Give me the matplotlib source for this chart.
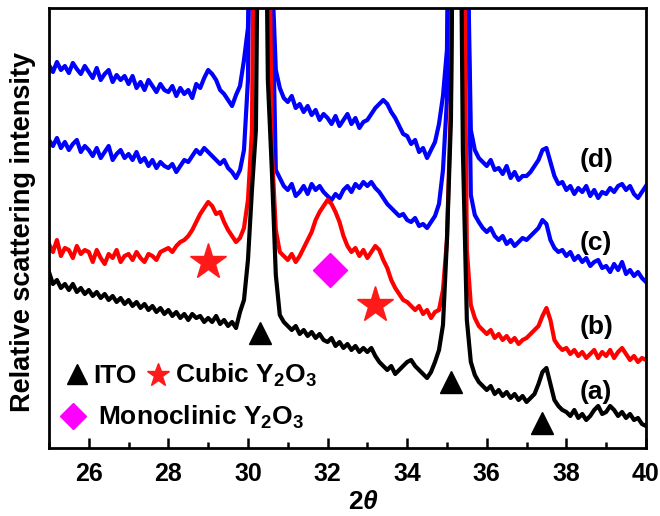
import numpy as np
import matplotlib
matplotlib.use("Agg")
import matplotlib.pyplot as plt

plt.rcParams["font.family"] = ["Liberation Sans", "DejaVu Sans"]
plt.rcParams["font.weight"] = "bold"
plt.rcParams["mathtext.fontset"] = "custom"
plt.rcParams["mathtext.rm"] = "Liberation Sans:bold"
plt.rcParams["mathtext.it"] = "Liberation Sans:italic:bold"
plt.rcParams["mathtext.bf"] = "Liberation Sans:bold"

# 2theta grid (step 0.1 deg) and intensities (arb. units)
two_theta = np.round(np.arange(25.0, 40.01, 0.1), 1)

curve_d = [
    383, 376, 386, 378, 382, 375, 385, 379, 374, 382,
    376, 370, 380, 368, 374, 378, 366, 373, 368, 372,
    364, 372, 360, 366, 358, 368, 362, 356, 364, 358,
    356, 362, 352, 360, 354, 358, 350, 364, 360, 370,
    378, 374, 368, 358, 354, 348, 342, 353, 362, 388,
    420, 598, 948, 948, 948, 948, 480, 378, 360, 350,
    346, 352, 340, 344, 336, 342, 333, 338, 328, 334,
    330, 324, 332, 322, 328, 334, 324, 330, 320, 326,
    328, 334, 340, 344, 348, 344, 336, 330, 322, 314,
    312, 304, 308, 296, 300, 290, 298, 306, 324, 352,
    398, 748, 948, 948, 948, 548, 318, 298, 290, 286,
    282, 288, 278, 280, 274, 282, 270, 276, 268, 272,
    272, 276, 282, 288, 298, 300, 286, 272, 264, 266,
    258, 262, 254, 260, 256, 262, 252, 258, 250, 256,
    254, 260, 256, 262, 264, 258, 262, 254, 250, 256,
    262,
]

curve_c = [
    308, 302, 310, 300, 306, 298, 304, 308, 296, 302,
    298, 292, 300, 290, 296, 302, 288, 294, 298, 290,
    294, 288, 296, 286, 290, 282, 288, 280, 286, 282,
    280, 284, 276, 282, 288, 286, 292, 298, 294, 300,
    296, 292, 288, 284, 288, 280, 276, 270, 278, 298,
    368, 748, 948, 948, 948, 948, 480, 278, 270, 262,
    258, 264, 252, 256, 262, 254, 264, 258, 262, 256,
    252, 248, 254, 250, 258, 262, 256, 264, 260, 266,
    262, 266, 260, 256, 250, 244, 240, 236, 232, 234,
    228, 226, 230, 222, 224, 220, 226, 232, 244, 278,
    348, 748, 948, 948, 948, 548, 253, 233, 226, 220,
    216, 220, 212, 208, 212, 204, 208, 202, 206, 210,
    208, 212, 216, 220, 228, 224, 208, 200, 196, 198,
    192, 196, 188, 192, 186, 190, 182, 186, 188, 180,
    182, 176, 184, 178, 186, 174, 178, 172, 176, 170,
    166,
]

curve_b = [
    204, 196, 208, 192, 200, 198, 190, 202, 194, 198,
    196, 186, 198, 190, 184, 194, 190, 198, 186, 192,
    194, 188, 196, 190, 186, 194, 192, 188, 196, 198,
    200, 196, 202, 206, 208, 212, 218, 226, 234, 240,
    246, 242, 234, 236, 226, 218, 212, 206, 210, 220,
    248, 318, 748, 948, 948, 648, 298, 218, 196, 192,
    188, 194, 186, 192, 200, 208, 216, 228, 236, 242,
    248, 244, 236, 226, 212, 202, 196, 200, 192, 198,
    190, 196, 202, 198, 188, 180, 168, 160, 154, 148,
    146, 142, 138, 142, 134, 138, 130, 136, 138, 158,
    208, 348, 748, 948, 648, 198, 143, 130, 122, 118,
    114, 118, 110, 114, 108, 112, 106, 110, 104, 108,
    110, 114, 118, 122, 132, 140, 128, 108, 102, 98,
    100, 94, 98, 92, 96, 90, 94, 98, 90, 96,
    92, 98, 90, 96, 100, 94, 88, 92, 86, 90,
    88,
]

curve_a = [
    176, 164, 168, 160, 164, 158, 164, 156, 160, 154,
    158, 152, 156, 150, 154, 148, 152, 146, 150, 144,
    148, 142, 146, 140, 144, 138, 142, 136, 140, 134,
    138, 132, 136, 130, 134, 128, 134, 130, 132, 126,
    130, 126, 132, 124, 128, 122, 126, 120, 136, 148,
    188, 258, 318, 748, 748, 368, 278, 173, 133, 126,
    122, 118, 122, 114, 118, 112, 116, 110, 114, 108,
    106, 110, 102, 106, 100, 104, 98, 102, 96, 100,
    96, 100, 92, 86, 82, 78, 82, 74, 78, 82,
    86, 88, 82, 78, 74, 70, 76, 86, 98, 123,
    208, 328, 748, 748, 298, 128, 86, 73, 66, 62,
    58, 62, 54, 58, 52, 56, 50, 54, 48, 52,
    46, 50, 54, 64, 76, 80, 64, 48, 42, 38,
    36, 32, 38, 30, 34, 28, 32, 38, 42, 34,
    36, 42, 38, 32, 36, 30, 34, 28, 30, 24,
    22,
]

# phase markers (position, height)
ito_x = [30.3, 35.1, 37.4]
ito_y = [115, 66, 25]
cubic_x = [29.0, 33.2]
cubic_y = [186, 143]
mono_x = [32.05]
mono_y = [178]

# sample labels
label_text = ["(d)", "(c)", "(b)", "(a)"]
label_y = [288, 205, 121, 56]

fig = plt.figure(figsize=(6.6, 5.16), dpi=100)
ax = fig.add_axes([0.0742, 0.1318, 0.9045, 0.8527])

ax.plot(two_theta, curve_d, color="#0000ff", lw=3)
ax.plot(two_theta, curve_c, color="#0000ff", lw=3)
ax.plot(two_theta, curve_b, color="#ff0000", lw=3)
ax.plot(two_theta, curve_a, color="#000000", lw=3)

ax.plot(ito_x, ito_y, "^", color="black", ms=16, ls="none")
ax.plot(cubic_x, cubic_y, "*", color="#ff1a1a", ms=27, ls="none")
ax.plot(mono_x, mono_y, "D", color="#ff00ff", ms=17, ls="none")

for t, y in zip(label_text, label_y):
    ax.text(38.75, y, t, fontsize=19, fontweight="bold", ha="center", va="center")

# legend, drawn as text with markers
ax.plot([0.047], [0.168], "^", color="black", ms=14, transform=ax.transAxes, clip_on=False)
ax.text(0.075, 0.148, "ITO", fontsize=19, fontweight="bold", transform=ax.transAxes)
ax.plot([0.182], [0.166], "*", color="#ff1a1a", ms=17, transform=ax.transAxes, clip_on=False)
ax.text(0.211, 0.148, r"Cubic Y$_2$O$_3$", fontsize=19, fontweight="bold", transform=ax.transAxes)
ax.plot([0.040], [0.073], "D", color="#ff00ff", ms=13, transform=ax.transAxes, clip_on=False)
ax.text(0.082, 0.052, r"Monoclinic Y$_2$O$_3$", fontsize=19, fontweight="bold", transform=ax.transAxes)

ax.set_xlim(25, 40)
ax.set_ylim(0, 440)
ax.set_xticks(np.arange(26, 41, 2))
ax.set_xticks(np.arange(25, 41, 2), minor=True)
ax.set_yticks([])
ax.tick_params(axis="x", which="major", direction="in", length=7, width=1.8,
               labelsize=18, pad=10)
ax.tick_params(axis="x", which="minor", direction="in", length=4, width=1.8)
for lab in ax.get_xticklabels():
    lab.set_fontweight("bold")
for sp in ax.spines.values():
    sp.set_linewidth(2)

ax.set_xlabel(r"2$\it{\theta}$", fontsize=19, fontweight="bold")
ax.xaxis.set_label_coords(0.526, -0.095)
ax.set_ylabel("Relative scattering intensity", fontsize=19.5, fontweight="bold")
ax.yaxis.set_label_coords(-0.022, 0.49)

fig.savefig("out.png", dpi=100, facecolor="white")
